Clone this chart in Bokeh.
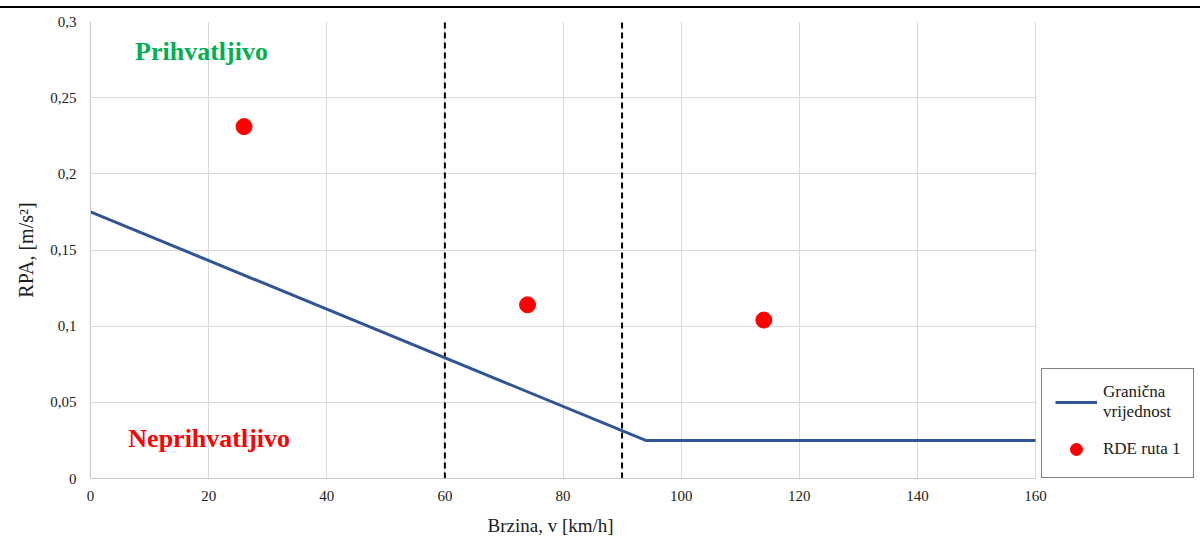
from bokeh.plotting import figure
from bokeh.models import Range1d, FixedTicker, Legend, LegendItem, BoxAnnotation, Div, Title
from bokeh.layouts import column
from bokeh.core.properties import value
from bokeh.embed import file_html
from bokeh.resources import INLINE

# Data
limit_v = [0, 94, 160]
limit_rpa = [0.175, 0.025, 0.025]
rde_v = [26, 74, 114]
rde_rpa = [0.231, 0.114, 0.104]
bins_v = [60, 90]
x_ticks = [0, 20, 40, 60, 80, 100, 120, 140, 160]
y_ticks = [0, 0.05, 0.1, 0.15, 0.2, 0.25, 0.3]
y_tick_labels = ["0", "0,05", "0,1", "0,15", "0,2", "0,25", "0,3"]

FONT = "Liberation Serif"

# layout geometry: data area 0..160 occupies 945 px; frame runs on to the right edge
W, H = 1200, 536
LEFT, TOP, BOTTOM = 90, 13, 64
DATA_W = 945
x_end = 160 * (W - LEFT) / DATA_W

p = figure(width=W, height=H, output_backend="svg", toolbar_location=None,
           x_range=Range1d(0, x_end), y_range=Range1d(0, 0.3),
           min_border_left=LEFT, min_border_right=0, min_border_top=TOP,
           min_border_bottom=BOTTOM)
p.outline_line_color = None
p.background_fill_color = "white"

p.xgrid.grid_line_color = "#D9D9D9"
p.ygrid.grid_line_color = "#D9D9D9"

p.xaxis.ticker = FixedTicker(ticks=x_ticks)
p.yaxis.ticker = FixedTicker(ticks=y_ticks)
p.yaxis.major_label_overrides = {t: l for t, l in zip(y_ticks, y_tick_labels)}
p.xaxis.major_label_overrides = {t: str(t) for t in x_ticks}
p.xaxis.bounds = (0, 160)

for ax in (p.xaxis, p.yaxis):
    ax.major_tick_in = 0
    ax.major_tick_out = 0
    ax.minor_tick_line_color = None
    ax.axis_line_color = "#C8C8C8"
    ax.major_label_text_font = FONT
    ax.major_label_text_font_size = "15px"
    ax.major_label_text_color = "#202020"
    ax.axis_label_text_font = FONT
    ax.axis_label_text_font_size = "20px"
    ax.axis_label_text_font_style = "normal"
    ax.axis_label_text_color = "#202020"

p.xaxis.major_label_standoff = 12
p.yaxis.major_label_standoff = 14
p.yaxis.axis_label = "RPA, [m/s²]"
p.yaxis.axis_label_standoff = 10

# x-axis title, placed under the middle of the data area (0..160)
xtitle = Title(text="Brzina, v [km/h]", align="left", offset=397,
               text_font=FONT, text_font_size="19px", text_font_style="normal",
               text_color="#202020")
if "standoff" in Title.properties():
    xtitle.standoff = 18
p.add_layout(xtitle, "below")

p.segment(x0=bins_v, y0=[0] * len(bins_v), x1=bins_v, y1=[0.3] * len(bins_v),
          line_color="black", line_width=2, line_dash="6 4")

limit = p.line(limit_v, limit_rpa, line_color="#2F5597", line_width=3)
pts = p.scatter(rde_v, rde_rpa, size=16, fill_color="#FF0000", line_color="#FF0000")

p.text(x=[18.8], y=[0.28], text=["Prihvatljivo"], text_font=value(FONT),
       text_font_style="bold", text_font_size="26px", text_color="#00B050",
       text_align="center", text_baseline="middle")
p.text(x=[20.1], y=[0.026], text=["Neprihvatljivo"], text_font=value(FONT),
       text_font_style="bold", text_font_size="26px", text_color="#FF0000",
       text_align="center", text_baseline="middle")

# blank out the part of the frame right of the data area (legend sits there)
p.add_layout(BoxAnnotation(left=160.25, fill_color="white", fill_alpha=1,
                           line_color=None))

legend = Legend(items=[LegendItem(label="Granična\nvrijednost", renderers=[limit]),
                       LegendItem(label="RDE ruta 1", renderers=[pts])],
                location=(951, 0))
legend.label_text_font = FONT
legend.label_text_font_size = "17px"
legend.label_text_color = "#202020"
legend.border_line_color = "black"
legend.border_line_width = 1
legend.background_fill_color = "white"
legend.background_fill_alpha = 1
legend.margin = 0
legend.padding = 13
legend.spacing = 12
legend.glyph_width = 42
legend.glyph_height = 30
legend.label_standoff = 6
p.add_layout(legend, "center")

top_rule = Div(text="", width=W, height=2, margin=(6, 0, 0, 0),
               styles={"background-color": "black"})
layout = column(top_rule, p, spacing=0)

open("out.html", "w").write(file_html(layout, INLINE))
